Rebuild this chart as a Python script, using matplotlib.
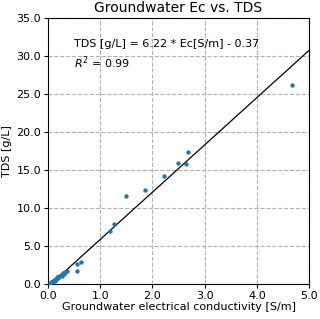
import numpy as np
import matplotlib
matplotlib.use('Agg')
import matplotlib.pyplot as plt

# groundwater samples
ec = [0.04, 0.06, 0.08, 0.10, 0.12, 0.13, 0.15, 0.16, 0.18, 0.20, 0.22, 0.24,
      0.26, 0.28, 0.30, 0.33, 0.36, 0.55, 0.55, 0.63,
      1.18, 1.26, 1.50, 1.86, 2.23, 2.48, 2.64, 2.68, 4.68]
tds = [0.1, 0.2, 0.3, 0.4, 0.5, 0.4, 0.7, 0.6, 0.9, 0.8, 1.0, 1.2,
       1.1, 1.4, 1.3, 1.6, 1.75, 1.7, 2.6, 2.9,
       7.0, 7.9, 11.5, 12.4, 14.2, 15.9, 15.8, 17.3, 26.2]
slope = 6.22
intercept = -0.37
r2 = 0.99

plt.rcParams['font.size'] = 8
fig = plt.figure(figsize=(3.2, 3.19), dpi=100)
ax = fig.add_axes([0.15, 0.11, 0.816, 0.834])
ax.scatter(ec, tds, s=10, color='tab:blue', zorder=3, linewidths=0)
xl = np.array([0, 5])
ax.plot(xl, slope * xl + intercept, color='black', lw=0.9, zorder=2)
ax.set_xlim(0, 5)
ax.set_ylim(0, 35)
ax.set_xticks(np.arange(0, 5.1, 1))
ax.set_yticks(np.arange(0, 35.1, 5))
ax.xaxis.set_major_formatter(matplotlib.ticker.FormatStrFormatter('%.1f'))
ax.yaxis.set_major_formatter(matplotlib.ticker.FormatStrFormatter('%.1f'))
ax.tick_params(length=3, pad=2)
ax.grid(True, ls='--', color='#b0b0b0')
ax.set_axisbelow(True)
ax.set_xlabel('Groundwater electrical conductivity [S/m]', labelpad=1)
ax.set_ylabel('TDS [g/L]', labelpad=3)
ax.set_title('Groundwater Ec vs. TDS', fontsize=10, pad=4)
ax.text(0.5, 31.6, 'TDS [g/L] = %.2f * Ec[S/m] - %.2f' % (slope, -intercept), va='center')
ax.text(0.5, 29.1, '$R^2$ = %.2f' % r2, va='center')
plt.savefig('out.png')
